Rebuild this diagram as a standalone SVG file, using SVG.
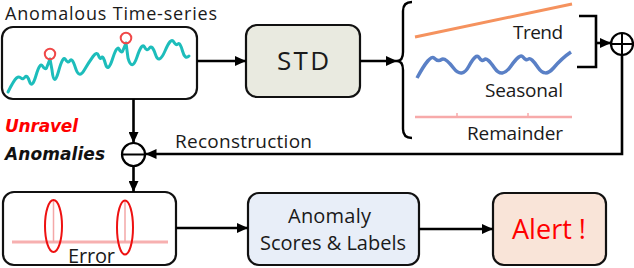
<svg xmlns="http://www.w3.org/2000/svg" width="634" height="268" viewBox="0 0 634 268">
<defs>
<marker id="ah" markerWidth="11" markerHeight="10" refX="11" refY="5" orient="auto" markerUnits="userSpaceOnUse">
<path d="M0,0 L11,5 L0,10 z" fill="#000"/>
</marker>
<style>
.box{stroke:#111;stroke-width:2.2}
.t{font-family:"Open Sans","DejaVu Sans",sans-serif;fill:#1a1a1a}
.c{fill:none;stroke:#000;stroke-width:2.6}
.bi{font-family:"DejaVu Sans","Liberation Sans",sans-serif;font-weight:bold;font-style:italic;font-size:17px}
</style>
</defs>
<rect width="634" height="268" fill="#fff"/>

<g id="timeseries">
<text class="t" x="5" y="20" font-size="18" textLength="212" lengthAdjust="spacing">Anomalous Time-series</text>
<rect class="box" x="2" y="27" width="195" height="72" rx="11" fill="#fff"/>
<path d="M 8,92 Q 14,80 16.5,78 Q 19,76 21,78 Q 23,80 25,77 Q 27,74 29.5,81.5 Q 32,89 36,75.5 Q 40,62 42.5,66 Q 45,70 46.5,68 L 50,59 L 52,70 Q 54,88 58.5,71.5 Q 63,55 65.5,59.5 Q 68,64 70,60.5 Q 72,57 75.5,68 Q 79,79 84,70.5 Q 89,62 93,56.5 Q 97,51 98.5,55.5 Q 100,60 101.5,57.5 Q 103,55 105.5,64 Q 108,73 112.5,59 Q 117,45 119,49 Q 121,53 122.5,51.5 L 126,43 L 128,58 Q 132,72 137,57 Q 142,42 144.5,47 Q 147,52 149.5,48 Q 152,44 155.5,54.5 Q 159,65 165,51 Q 171,37 173.5,41.5 Q 176,46 178,44 Q 180,42 182.5,51 Q 185,60 189,56" fill="none" stroke="#1dbdbb" stroke-width="3" stroke-linejoin="round" stroke-linecap="round"/>
<circle cx="50" cy="54" r="5.2" fill="none" stroke="#f04848" stroke-width="2"/>
<circle cx="126" cy="38" r="5.3" fill="none" stroke="#f04848" stroke-width="2"/>
</g>

<g id="std">
<rect class="box" x="246" y="25" width="114" height="72" rx="11" fill="#e9eae0"/>
<text class="t" x="303" y="70" font-size="26" text-anchor="middle" textLength="52" lengthAdjust="spacing">STD</text>
</g>

<g id="components">
<path d="M 412,2 Q 403,2 403,11 L 403,52 Q 403,61 397,61 Q 403,61 403,70 L 403,129 Q 403,138 412,138" fill="none" stroke="#000" stroke-width="2.4"/>
<line x1="415" y1="37" x2="572" y2="4" stroke="#f5925e" stroke-width="3"/>
<text class="t" x="563" y="39" font-size="19" text-anchor="end" textLength="50" lengthAdjust="spacing">Trend</text>
<path d="M 417,78 Q 430,54 434,58 Q 438,62 441.5,59.5 Q 445,57 453.5,68 Q 462,79 469,66 Q 476,53 479,57.5 Q 482,62 484.5,59.5 Q 487,57 494.5,68 Q 502,79 511,66 Q 520,53 523,57 Q 526,61 528.5,59 Q 531,57 538,67.5 Q 545,78 553.5,68 Q 562,58 571,52" fill="none" stroke="#5a80c6" stroke-width="3.5" stroke-linejoin="round"/>
<text class="t" x="563" y="97" font-size="19" text-anchor="end" textLength="78" lengthAdjust="spacing">Seasonal</text>
<line x1="415" y1="117" x2="572" y2="117" stroke="#f7aaaa" stroke-width="2.5"/>
<path d="M457,117 V113 M528,117 V113" stroke="#f7aaaa" stroke-width="1.5"/>
<text class="t" x="563" y="140" font-size="19" text-anchor="end" textLength="96" lengthAdjust="spacing">Remainder</text>
</g>

<g id="plus">
<circle cx="622" cy="44" r="11" fill="#fff" stroke="#000" stroke-width="2.2"/>
<path d="M611,44 H633 M622,33 V55" stroke="#000" stroke-width="2"/>
</g>

<g id="minus">
<circle cx="133.5" cy="154.5" r="11.5" fill="#fff" stroke="#000" stroke-width="2.2"/>
<path d="M122,154.5 H145" stroke="#000" stroke-width="2"/>
</g>

<g id="labels">
<text class="bi" x="5" y="132" fill="#ff0000" textLength="73" lengthAdjust="spacing">Unravel</text>
<text class="bi" x="5" y="160" fill="#111" textLength="100" lengthAdjust="spacing">Anomalies</text>
<text class="t" x="175" y="148" font-size="19" textLength="137" lengthAdjust="spacing">Reconstruction</text>
</g>

<g id="error">
<rect class="box" x="3" y="192" width="173" height="73" rx="11" fill="#fff"/>
<line x1="12" y1="242" x2="168" y2="242" stroke="#f7b0b0" stroke-width="3"/>
<path d="M53.5,242 V200 M125,242 V200" stroke="#f4a8a8" stroke-width="1.5"/>
<ellipse cx="53.5" cy="226" rx="8.5" ry="26" fill="none" stroke="#ee1111" stroke-width="2"/>
<ellipse cx="125" cy="227.5" rx="8" ry="27" fill="none" stroke="#ee1111" stroke-width="2"/>
<text class="t" x="91.5" y="263" font-size="20" text-anchor="middle" textLength="47" lengthAdjust="spacing">Error</text>
</g>

<g id="scores">
<rect class="box" x="248" y="193" width="171" height="72" rx="11" fill="#e8eef8"/>
<text class="t" x="329.5" y="223" font-size="20" text-anchor="middle" textLength="83" lengthAdjust="spacing">Anomaly</text>
<text class="t" x="333" y="250" font-size="20" text-anchor="middle" textLength="146" lengthAdjust="spacing">Scores &amp; Labels</text>
</g>

<g id="alert">
<rect class="box" x="493" y="193" width="113" height="72" rx="11" fill="#f9e4d8"/>
<text x="549" y="239" font-family="'Open Sans','DejaVu Sans',sans-serif" font-size="27" fill="#ff0000" text-anchor="middle" textLength="74" lengthAdjust="spacing">Alert !</text>
</g>

<g id="connectors">
<line class="c" x1="197" y1="61" x2="246" y2="61" marker-end="url(#ah)"/>
<line class="c" x1="360" y1="61" x2="397" y2="61" marker-end="url(#ah)"/>
<path class="c" d="M579,16 H596 V67 H577"/>
<line class="c" x1="596" y1="43" x2="611" y2="43" marker-end="url(#ah)"/>
<path class="c" d="M622,55 V154 H145.5" marker-end="url(#ah)"/>
<line class="c" x1="133.5" y1="99" x2="133.5" y2="143" marker-end="url(#ah)"/>
<line class="c" x1="133.5" y1="166" x2="133.5" y2="192" marker-end="url(#ah)"/>
<line class="c" x1="176" y1="228" x2="248" y2="228" marker-end="url(#ah)"/>
<line class="c" x1="419" y1="229" x2="493" y2="229" marker-end="url(#ah)"/>
</g>
</svg>
